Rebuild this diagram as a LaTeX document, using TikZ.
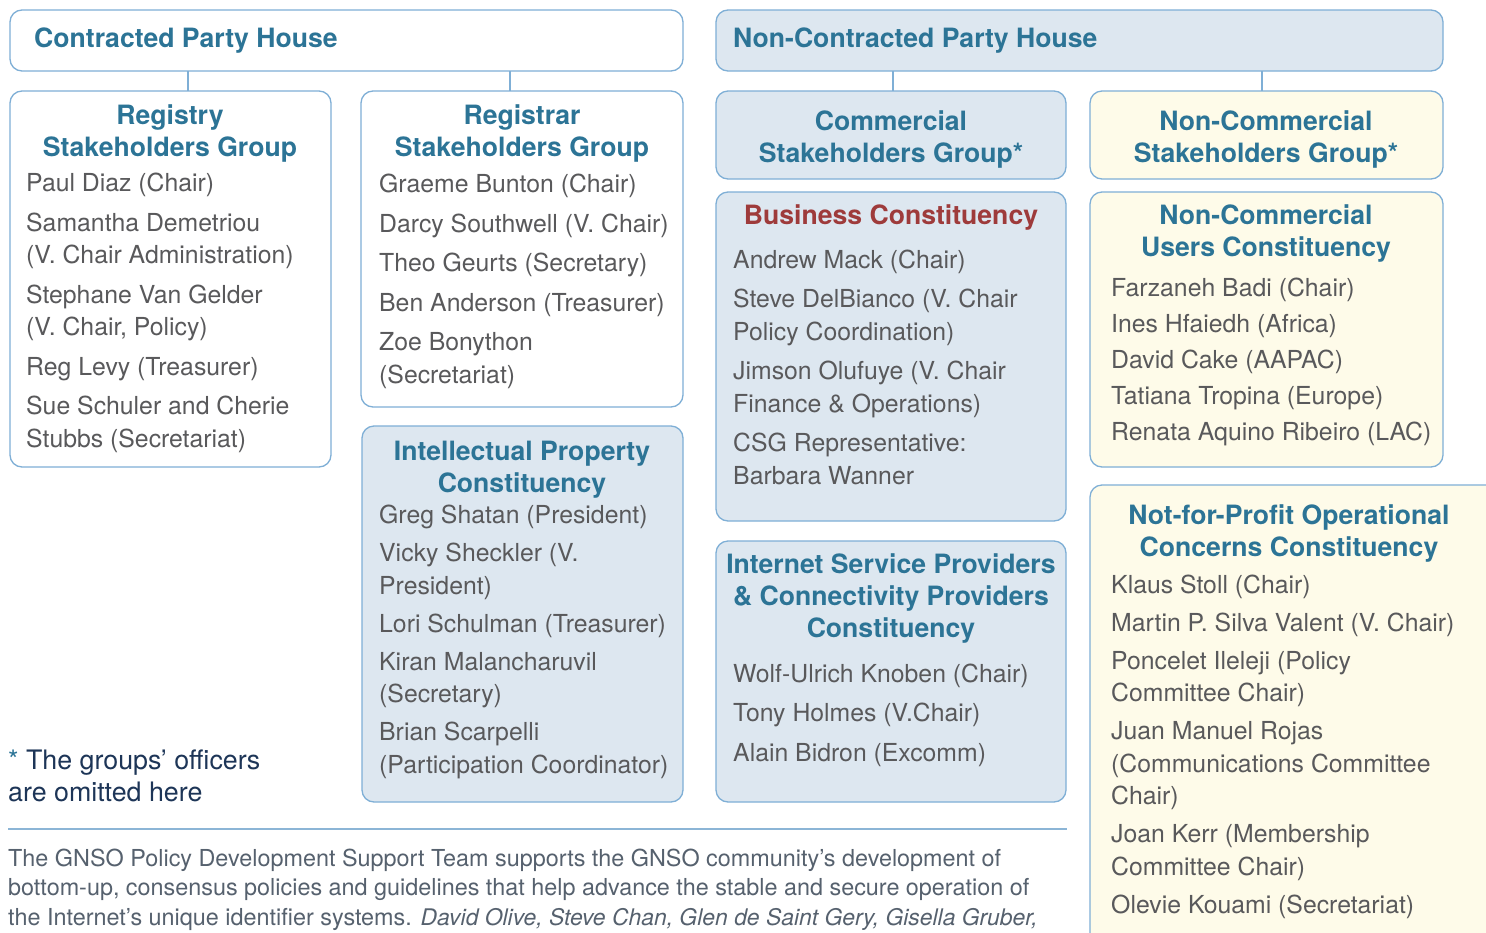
\documentclass[tikz,border=0pt]{standalone}
\usepackage{fontspec}
\setmainfont{TeX Gyre Heros}
\definecolor{headc}{HTML}{2C7496}
\definecolor{redc}{HTML}{9E3B3B}
\definecolor{bodyc}{HTML}{59595B}
\definecolor{bordc}{HTML}{7FAFD6}
\definecolor{bluef}{HTML}{DDE7F0}
\definecolor{yellf}{HTML}{FEFBE9}
\definecolor{footc}{HTML}{1D3557}
\definecolor{parac}{HTML}{56616E}
\definecolor{sepc}{HTML}{8CB5D6}
\begin{document}
\begin{tikzpicture}[x=1pt,y=-1pt,
  box/.style={draw=bordc, line width=1.3pt, rounded corners=12pt, inner sep=0pt, outer sep=0pt, anchor=north west},
  bluebox/.style={box, fill=bluef},
  yellbox/.style={box, fill=yellf},
  whitebox/.style={box, fill=white},
  conn/.style={draw=bordc, line width=1.6pt},
  head/.style={font=\fontsize{26.6}{32}\selectfont\bfseries, text=headc, align=center, anchor=base, inner sep=0pt},
  househead/.style={head, anchor=base west},
  body/.style={font=\fontsize{24.8}{32.5}\selectfont, text=bodyc, align=left, anchor=base west, inner sep=0pt},
]
\useasboundingbox (0,0) rectangle (1486,932);
\clip (0,0) rectangle (1486,932);
\fill[white] (0,0) rectangle (1486,932);

% houses
\node[whitebox, minimum width=673, minimum height=61] (cph) at (10,10) {};
\node[bluebox, minimum width=727, minimum height=61] (ncph) at (716,10) {};
\node[househead] (cpht) at (34,47) {Contracted Party House};
\node[househead] (ncpht) at (733,47) {Non-Contracted Party House};

% group boxes
\node[whitebox, minimum width=321, minimum height=376] (rysg) at (10,91) {};
\node[whitebox, minimum width=322, minimum height=316] (rrsg) at (361,91) {};
\node[bluebox, minimum width=321, minimum height=376] (ipc) at (362,426) {};
\node[bluebox, minimum width=350, minimum height=88] (csg) at (716,91) {};
\node[yellbox, minimum width=353, minimum height=88] (ncsg) at (1090,91) {};
\node[bluebox, minimum width=350, minimum height=329] (bc) at (716,192) {};
\node[bluebox, minimum width=350, minimum height=261] (ispc) at (716,541) {};
\node[yellbox, minimum width=353, minimum height=275] (ncuc) at (1090,192) {};
\node[yellbox, minimum width=420, minimum height=480] (npoc) at (1090,485) {};

% connectors
\coordinate (k1) at (188,0);
\coordinate (k2) at (510,0);
\coordinate (k3) at (893,0);
\coordinate (k4) at (1262,0);
\draw[conn] (cph.south -| k1) -- (rysg.north -| k1);
\draw[conn] (cph.south -| k2) -- (rrsg.north -| k2);
\draw[conn] (ncph.south -| k3) -- (csg.north -| k3);
\draw[conn] (ncph.south -| k4) -- (ncsg.north -| k4);

% headings (anchor = baseline of last line)
\node[head] (rysgt) at (170,156) {Registry\\Stakeholders Group};
\node[head] (rrsgt) at (522,156) {Registrar\\Stakeholders Group};
\node[head] (ipct) at (522,492) {Intellectual Property\\Constituency};
\node[head] (csgt) at (891,162) {Commercial\\Stakeholders Group*};
\node[head] (ncsgt) at (1266,162) {Non-Commercial\\Stakeholders Group*};
\node[head, text=redc] (bct) at (891,224) {Business Constituency};
\node[head] (ispct) at (891,637) {Internet Service Providers\\\& Connectivity Providers\\Constituency};
\node[head] (ncuct) at (1266,256) {Non-Commercial\\Users Constituency};
\node[head] (npoct) at (1289,556) {Not-for-Profit Operational\\Concerns Constituency};

% members (anchor = baseline of last line)
\node[body] (rysgm) at (26,447) {Paul Diaz (Chair)\\[7pt]Samantha Demetriou\\(V. Chair Administration)\\[7pt]Stephane Van Gelder\\(V. Chair, Policy)\\[7pt]Reg Levy (Treasurer)\\[7pt]Sue Schuler and Cherie\\Stubbs (Secretariat)};
\node[body] (rrsgm) at (379,383) {Graeme Bunton (Chair)\\[7pt]Darcy Southwell (V. Chair)\\[7pt]Theo Geurts (Secretary)\\[7pt]Ben Anderson (Treasurer)\\[7pt]Zoe Bonython\\(Secretariat)};
\node[body] (ipcm) at (379,773) {Greg Shatan (President)\\[5.5pt]Vicky Sheckler (V.\\President)\\[5.5pt]Lori Schulman (Treasurer)\\[5.5pt]Kiran Malancharuvil\\(Secretary)\\[5.5pt]Brian Scarpelli\\(Participation Coordinator)};
\node[body] (bcm) at (733,484) {Andrew Mack (Chair)\\[7pt]Steve DelBianco (V. Chair\\Policy Coordination)\\[7pt]Jimson Olufuye (V. Chair\\Finance \& Operations)\\[7pt]CSG Representative:\\Barbara Wanner};
\node[body] (ispcm) at (733,761) {Wolf-Ulrich Knoben (Chair)\\[7pt]Tony Holmes (V.Chair)\\[7pt]Alain Bidron (Excomm)};
\node[body] (ncucm) at (1111,440) {Farzaneh Badi (Chair)\\[3.5pt]Ines Hfaiedh (Africa)\\[3.5pt]David Cake (AAPAC)\\[3.5pt]Tatiana Tropina (Europe)\\[3.5pt]Renata Aquino Ribeiro (LAC)};
\node[body] (npocm) at (1111,913) {Klaus Stoll (Chair)\\[5.5pt]Martin P. Silva Valent (V. Chair)\\[5.5pt]Poncelet Ileleji (Policy\\Committee Chair)\\[5.5pt]Juan Manuel Rojas\\(Communications Committee\\Chair)\\[5.5pt]Joan Kerr (Membership\\Committee Chair)\\[5.5pt]Olevie Kouami (Secretariat)};

% footnote
\node[font=\fontsize{26.8}{32}\selectfont, text=footc, align=left, anchor=base west, inner sep=0pt] (foot) at (8,801) {\textcolor{headc}{*} The groups’ officers\\are omitted here};

% separator and paragraph
\coordinate (s1) at (8,829);
\coordinate (s2) at (1067,829);
\draw[draw=sepc, line width=1.8pt] (s1) -- (s2);
\node[font=\fontsize{23.38}{29.5}\selectfont, text=parac, align=left, anchor=base west, inner sep=0pt] (para) at (8,925) {The GNSO Policy Development Support Team supports the GNSO community’s development of\\bottom-up, consensus policies and guidelines that help advance the stable and secure operation of\\the Internet’s unique identifier systems. {\fontsize{22.9}{29.5}\selectfont\itshape David Olive, Steve Chan, Glen de Saint Gery, Gisella Gruber,}};
\end{tikzpicture}
\end{document}
